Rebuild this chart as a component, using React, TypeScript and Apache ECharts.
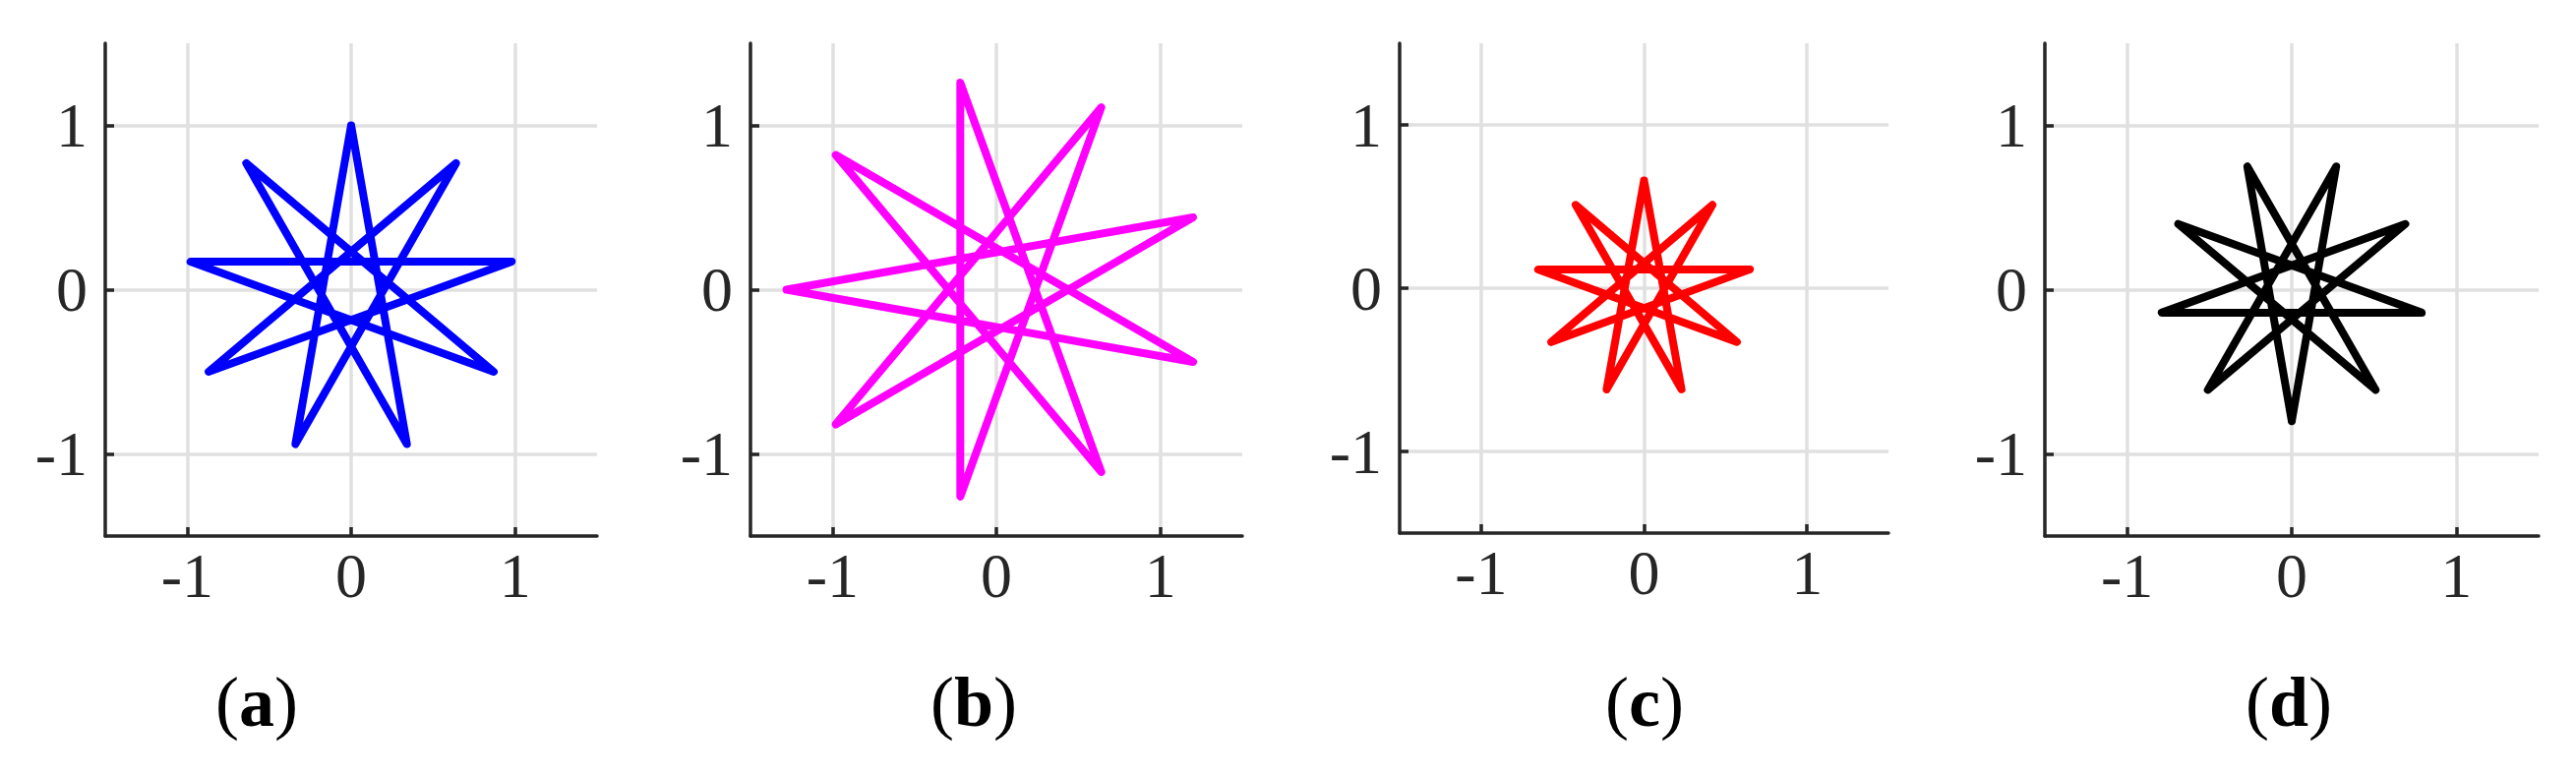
import React, { useEffect, useRef } from "react";
import * as echarts from "echarts";

// ---- data ----
const TICKS = [-1, 0, 1];
const AXIS_MIN = -1.5;
const AXIS_MAX = 1.5;
const PANEL_LETTERS = ["a", "b", "c", "d"];
const COLORS = ["#0000ff", "#ff00ff", "#ff0000", "#000000"];

// star outlines (vertices in drawing order, closed)
const starA = [[0, 1], [0.34, -0.94], [-0.64, 0.77], [0.87, -0.5], [-0.98, 0.17], [0.98, 0.17], [-0.87, -0.5], [0.64, 0.77], [-0.34, -0.94], [0, 1]];
const starB = [[-1.28, 0], [1.2, 0.44], [-0.98, -0.82], [0.64, 1.11], [-0.22, -1.26], [-0.22, 1.26], [0.64, -1.11], [-0.98, 0.82], [1.2, -0.44], [-1.28, 0]];
const starC = [[0, 0.66], [0.23, -0.62], [-0.42, 0.51], [0.57, -0.33], [-0.65, 0.115], [0.65, 0.115], [-0.57, -0.33], [0.42, 0.51], [-0.23, -0.62], [0, 0.66]];
const starD = [[0, -0.8], [0.27, 0.75], [-0.51, -0.61], [0.69, 0.4], [-0.79, -0.14], [0.79, -0.14], [-0.69, 0.4], [0.51, -0.61], [-0.27, 0.75], [0, -0.8]];
const STARS = [starA, starB, starC, starD];

// ---- layout ----
const GRIDS = [
  { left: 107, top: 44, width: 500, height: 501 },
  { left: 763, top: 44, width: 500, height: 501 },
  { left: 1423, top: 44, width: 497, height: 498 },
  { left: 2079, top: 44, width: 502, height: 501 },
];
const CAPTION_POS = [
  [261, 714],
  [990, 714],
  [1672, 714],
  [2327, 714],
];

const TEXT_COLOR = "#262626";
const AXIS_COLOR = "#262626";
const GRID_COLOR = "#e0e0e0";
const FONT = "'Liberation Serif', 'Times New Roman', serif";

export default function App() {
  const ref = useRef<HTMLDivElement>(null);
  useEffect(() => {
    document.body.style.margin = "0";
    if (!ref.current) return;
    const chart = echarts.init(ref.current, undefined, { renderer: "svg" });

    const axisCommon = (gi: number, isX: boolean) => ({
      type: "value",
      gridIndex: gi,
      min: AXIS_MIN,
      max: AXIS_MAX,
      axisLine: { show: true, onZero: false, lineStyle: { color: AXIS_COLOR, width: 3.5 } },
      axisTick: {
        show: true,
        inside: true,
        length: 9,
        customValues: TICKS,
        lineStyle: { color: AXIS_COLOR, width: 3.5 },
      },
      axisLabel: {
        show: true,
        customValues: TICKS,
        margin: isX ? 8 : 18,
        color: TEXT_COLOR,
        fontFamily: FONT,
        fontSize: 64,
        formatter: (v: number) => String(v),
      },
      splitLine: { show: true, lineStyle: { color: GRID_COLOR, width: 3.5 } },
    });

    const option: any = {
      animation: false,
      backgroundColor: "#ffffff",
      grid: GRIDS.map((g) => ({ ...g, containLabel: false })),
      xAxis: GRIDS.map((_, i) => axisCommon(i, true)),
      yAxis: GRIDS.map((_, i) => axisCommon(i, false)),
      series: STARS.map((pts, i) => ({
        type: "line",
        xAxisIndex: i,
        yAxisIndex: i,
        data: pts,
        showSymbol: false,
        symbol: "none",
        clip: false,
        lineStyle: { color: COLORS[i], width: 8, cap: "round", join: "round" },
        z: 5,
      })),
      graphic: PANEL_LETTERS.map((l, i) => ({
        type: "text",
        x: CAPTION_POS[i][0],
        y: CAPTION_POS[i][1],
        style: {
          text: `{p|(}{b|${l}}{p|)}`,
          align: "center",
          verticalAlign: "middle",
          rich: {
            p: { fontFamily: FONT, fontSize: 72, fill: "#000", color: "#000" },
            b: { fontFamily: FONT, fontSize: 72, fontWeight: "bold", fill: "#000", color: "#000" },
          },
        },
      })),
    };
    chart.setOption(option);
    return () => chart.dispose();
  }, []);
  return <div ref={ref} style={{ width: 2619, height: 790 }} />;
}
